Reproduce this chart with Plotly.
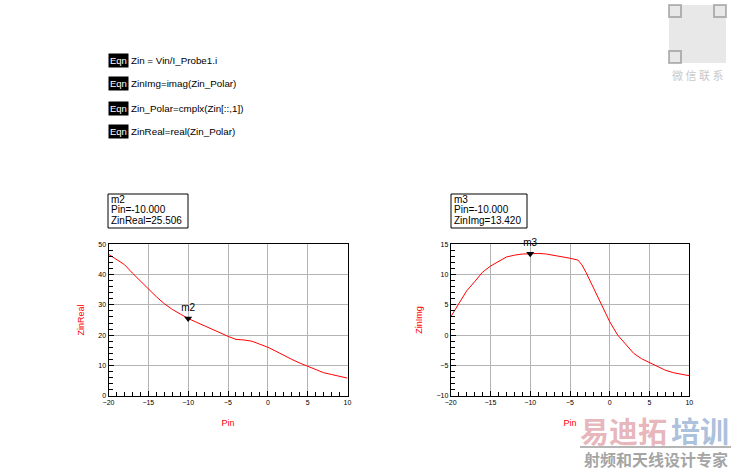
import plotly.graph_objects as go

# --- data ----------------------------------------------------------------

pin = list(range(-20, 11))
zin_real = [46.7, 45.0, 43.3, 40.5, 37.8, 35.2, 32.7, 30.4, 28.5, 27.0, 25.5,
            24.3, 23.2, 22.0, 20.8, 19.6, 18.6, 18.4, 18.0, 17.0, 16.0,
            14.7, 13.3, 12.0, 10.8, 9.7, 8.6, 7.6, 7.0, 6.4, 5.8]

pin_img = [-20, -19, -18, -17, -16, -15, -14, -13, -12, -11, -10, -9, -8, -7,
           -6, -5, -4, -3.5, -3, -2, -1, 0, 1, 2, 3, 4, 5, 6, 7, 8, 9, 10]
zin_img = [3.0, 5.2, 7.3, 8.8, 10.4, 11.4, 12.2, 12.9, 13.2, 13.4, 13.42, 13.5,
           13.4, 13.2, 12.9, 12.7, 12.4, 11.6, 10.4, 7.7, 5.0, 2.2, 0.0, -1.5,
           -3.0, -3.9, -4.5, -5.2, -5.8, -6.2, -6.4, -6.7]

equations = [
    "Zin = Vin/I_Probe1.i",
    "ZinImg=imag(Zin_Polar)",
    "Zin_Polar=cmplx(Zin[::,1])",
    "ZinReal=real(Zin_Polar)",
]

markers = [
    {"name": "m2", "x": -10, "y": 25.506, "label": "ZinReal"},
    {"name": "m3", "x": -10, "y": 13.420, "label": "ZinImg"},
]

FONT = "Liberation Sans, Arial, sans-serif"
CJK = "Noto Sans CJK SC"
W, H = 739, 472

fig = go.Figure()
fig.add_trace(go.Scatter(x=pin, y=zin_real, mode="lines", line={"color": "red", "width": 1},
                         xaxis="x", yaxis="y", showlegend=False, hoverinfo="skip"))
fig.add_trace(go.Scatter(x=pin_img, y=zin_img, mode="lines", line={"color": "red", "width": 1},
                         xaxis="x2", yaxis="y2", showlegend=False, hoverinfo="skip"))

# marker triangles
for i, m in enumerate(markers):
    ax = "" if i == 0 else "2"
    fig.add_trace(go.Scatter(
        x=[m["x"]], y=[m["y"]], mode="markers+text",
        marker={"symbol": "triangle-down", "size": 7, "color": "black"},
        text=[m["name"]], textposition="top center",
        textfont={"family": FONT, "size": 10, "color": "black"},
        xaxis="x" + ax, yaxis="y" + ax, showlegend=False, hoverinfo="skip",
        cliponaxis=False,
    ))


def px_x(p):
    return p / W


def px_y(p):
    return 1 - p / H


common_x = dict(range=[-20, 10], dtick=5, showgrid=True, gridcolor="#b4b4b4", gridwidth=1,
                ticks="inside", ticklen=5, tickcolor="black", zeroline=False, automargin=False,
                showline=True, linecolor="black", mirror=True, linewidth=1,
                tickfont={"family": FONT, "size": 7, "color": "black"},
                minor={"dtick": 1, "ticks": "inside", "ticklen": 4, "tickcolor": "black", "showgrid": False},
                title={"text": "Pin", "font": {"family": FONT, "size": 9, "color": "red"}, "standoff": 14})
common_y = dict(showgrid=True, gridcolor="#b4b4b4", gridwidth=1,
                ticks="inside", ticklen=5, tickcolor="black", zeroline=False, automargin=False,
                showline=True, linecolor="black", mirror=True, linewidth=1,
                tickfont={"family": FONT, "size": 7, "color": "black"})

ydom = [px_y(395.7), px_y(244.3)]
fig.update_layout(
    width=W, height=H, autosize=False,
    margin={"l": 0, "r": 0, "t": 0, "b": 0, "autoexpand": False},
    paper_bgcolor="white", plot_bgcolor="white",
    xaxis=dict(common_x, domain=[px_x(108.5), px_x(347.5)], anchor="y"),
    yaxis=dict(common_y, domain=ydom, range=[0, 50], dtick=10, anchor="x",
               minor={"dtick": 2, "ticks": "inside", "ticklen": 4, "tickcolor": "black", "showgrid": False},
               title={"text": "ZinReal", "font": {"family": FONT, "size": 9, "color": "red"}, "standoff": 12}),
    xaxis2=dict(common_x, domain=[px_x(450.7), px_x(689.3)], anchor="y2"),
    yaxis2=dict(common_y, domain=ydom, range=[-10, 15], dtick=5, anchor="x2",
                minor={"dtick": 1, "ticks": "inside", "ticklen": 4, "tickcolor": "black", "showgrid": False},
                title={"text": "ZinImg", "font": {"family": FONT, "size": 9, "color": "red"}, "standoff": 12}),
)

# equation blocks
eq_y = [61, 84, 108, 132]
for text, yy in zip(equations, eq_y):
    fig.add_annotation(x=px_x(108), y=px_y(yy), xref="paper", yref="paper",
                       text="Eqn", showarrow=False, xanchor="left", yanchor="middle",
                       bgcolor="black", font={"family": FONT, "size": 9.5, "color": "white"},
                       borderpad=1)
    fig.add_annotation(x=px_x(129), y=px_y(yy), xref="paper", yref="paper",
                       text=text, showarrow=False, xanchor="left", yanchor="middle",
                       font={"family": FONT, "size": 9.8, "color": "black"})

# marker readout boxes: frame plus three tightly spaced lines
box_x = [(108, 188), (451, 527)]
for m, (bx0, bx1) in zip(markers, box_x):
    fig.add_shape(type="rect", xref="paper", yref="paper", x0=px_x(bx0), x1=px_x(bx1),
                  y0=px_y(228), y1=px_y(194), line={"color": "black", "width": 1},
                  fillcolor="white")
    lines = [m["name"], f"Pin={m['x']:.3f}", f"{m['label']}={m['y']:.3f}"]
    for k, line in enumerate(lines):
        fig.add_annotation(x=px_x(bx0 + 1), y=px_y(199 + 10.5 * k), xref="paper", yref="paper",
                           text=line, showarrow=False, xanchor="left", yanchor="middle",
                           font={"family": FONT, "size": 10, "color": "black"})

# watermarks
fig.add_shape(type="rect", xref="paper", yref="paper", x0=px_x(669), x1=px_x(726),
              y0=px_y(63), y1=px_y(5), line={"width": 0}, fillcolor="rgba(150,150,150,0.22)")
for fx, fy in [(669, 5), (714, 5), (669, 51)]:
    fig.add_shape(type="rect", xref="paper", yref="paper", x0=px_x(fx), x1=px_x(fx + 12),
                  y0=px_y(fy + 12), y1=px_y(fy), line={"width": 2, "color": "rgba(120,120,120,0.5)"},
                  fillcolor="rgba(255,255,255,0)")
fig.add_annotation(x=px_x(697), y=px_y(75), xref="paper", yref="paper", text="微 信 联 系",
                   showarrow=False, xanchor="center", yanchor="middle",
                   font={"family": CJK, "size": 11, "color": "#c8c8c8"})
fig.add_annotation(x=px_x(578), y=px_y(430), xref="paper", yref="paper", text="<b>易迪拓</b>",
                   showarrow=False, xanchor="left", yanchor="middle",
                   font={"family": CJK, "size": 29, "color": "rgba(210,120,130,0.55)"})
fig.add_annotation(x=px_x(669), y=px_y(430), xref="paper", yref="paper", text="<b>培训</b>",
                   showarrow=False, xanchor="left", yanchor="middle",
                   font={"family": CJK, "size": 29, "color": "rgba(100,140,190,0.55)"})
fig.add_shape(type="line", xref="paper", yref="paper", x0=px_x(580), x1=px_x(731),
              y0=px_y(447), y1=px_y(447), line={"color": "rgba(150,150,150,0.7)", "width": 2})
fig.add_annotation(x=px_x(656), y=px_y(459), xref="paper", yref="paper", text="<b>射频和天线设计专家</b>",
                   showarrow=False, xanchor="center", yanchor="middle",
                   font={"family": CJK, "size": 16, "color": "rgba(140,140,140,0.8)"})

# the page's default body margin shifts the figure by 8px; remove it
fig.write_html("out.html", config={"displayModeBar": False},
               post_script="document.body.style.margin='0px';document.body.style.overflow='hidden';")
